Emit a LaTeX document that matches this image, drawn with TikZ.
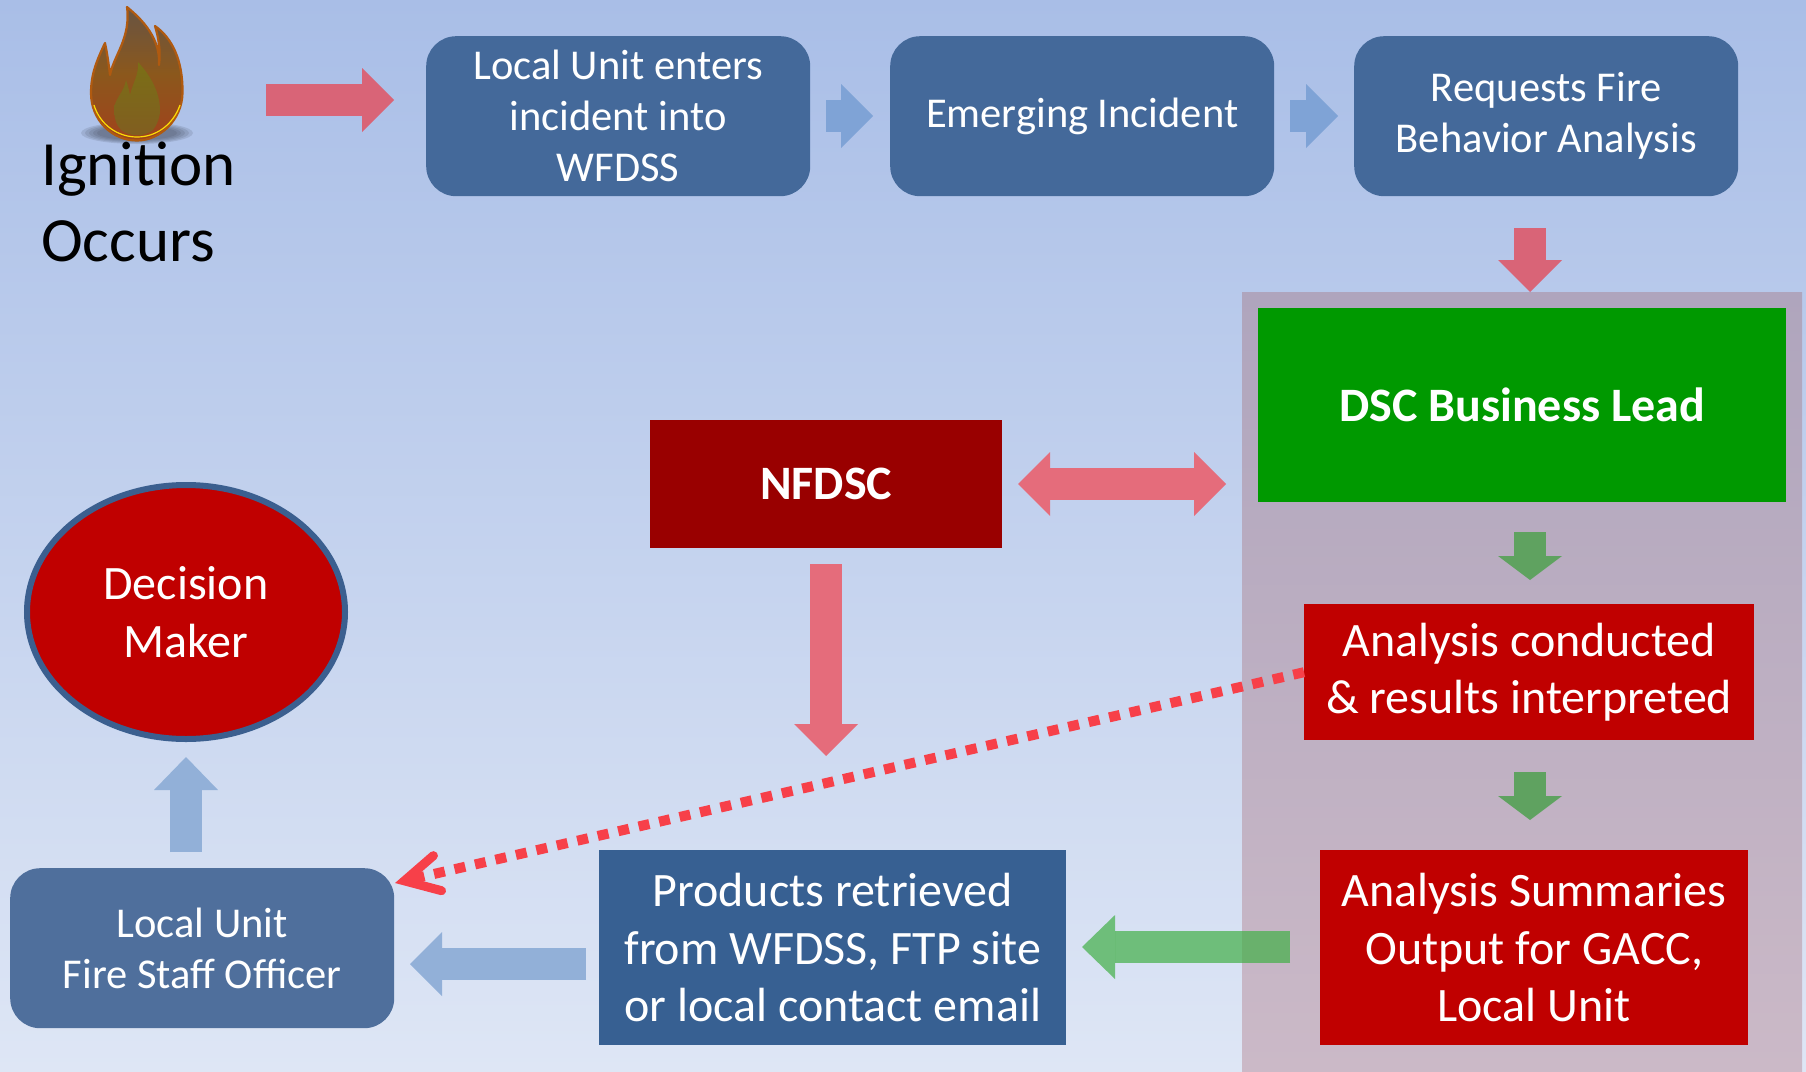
\documentclass[tikz,border=0pt]{standalone}
\usepackage{fontspec}
\setmainfont{Carlito}
\usetikzlibrary{arrows.meta,shadings,shapes.geometric}
\definecolor{bgtop}{HTML}{A9BEE7}
\definecolor{bgbot}{HTML}{DEE6F5}
\definecolor{paneltop}{HTML}{AFA5BD}
\definecolor{panelbot}{HTML}{CBB9C7}
\definecolor{roundblue}{HTML}{44699A}
\definecolor{lightblue}{HTML}{4F6F9C}
\definecolor{prodblue}{HTML}{376092}
\definecolor{boxred}{HTML}{C00000}
\definecolor{darkred}{HTML}{990000}
\definecolor{boxgreen}{HTML}{009900}
\definecolor{arrowred}{HTML}{D96477}
\definecolor{arrowredb}{HTML}{E56C7B}
\definecolor{arrowblue}{HTML}{7FA3D6}
\definecolor{arrowblueb}{HTML}{92B0D8}
\definecolor{arrowgreen}{HTML}{5FA260}
\definecolor{arrowgreenb}{HTML}{42B047}
\definecolor{dotred}{HTML}{F74049}
\definecolor{ellipseline}{HTML}{3B5F8F}
\definecolor{flameline}{HTML}{B05A10}
\pgfdeclareverticalshading{flameouter}{100bp}{
  color(0bp)=(rgb:red,1;green,0.45;blue,0.18);
  color(30bp)=(rgb:red,1;green,0.45;blue,0.18);
  color(50bp)=(rgb:red,1;green,0.63;blue,0.2);
  color(68bp)=(rgb:red,1;green,0.75;blue,0.5);
  color(88bp)=(rgb:red,1;green,0.94;blue,0.86);
  color(100bp)=(rgb:red,1;green,0.97;blue,0.93)}
\pgfdeclareverticalshading{flameinner}{100bp}{
  color(0bp)=(rgb:red,1;green,0.72;blue,0.25);
  color(25bp)=(rgb:red,1;green,0.72;blue,0.25);
  color(75bp)=(rgb:red,1;green,0.91;blue,0.18);
  color(100bp)=(rgb:red,1;green,0.91;blue,0.18)}
\tikzset{
  x=1pt,y=-1pt,
  boxtext/.style={text=white,align=center,inner sep=0pt},
  roundbox/.style={boxtext,rounded corners=30pt,fill=roundblue,font=\fontsize{42.5}{51}\selectfont},
  squarebox/.style={boxtext,fill=boxred,font=\fontsize{48}{57.5}\selectfont},
  boldbox/.style={boxtext,font=\fontsize{48}{57.5}\selectfont\bfseries},
  barrow/.style n args={3}{line width=#1pt,-{Triangle[length=#3pt,width=#2pt,line width=0pt]}},
  dblarrow/.style n args={3}{line width=#1pt,{Triangle[length=#3pt,width=#2pt,line width=0pt]}-{Triangle[length=#3pt,width=#2pt,line width=0pt]}},
}
\newcommand{\mybox}[7]{\node[#1,minimum width=#4pt-#2pt,minimum height=#5pt-#3pt,anchor=north west] (#6) at (#2,#3) {#7};}
\begin{document}
\begin{tikzpicture}
\useasboundingbox (0,0) rectangle (1806,1071);
\shade[top color=bgtop,bottom color=bgbot] (0,0) rectangle (1806,1071);
\shade[top color=paneltop,bottom color=panelbot] (1242,292) rectangle (1802,1071);

% flame shadow
\foreach \r/\s in {56/11,52/10,48/9,44/8,40/7}{
  \fill[black!60!bgtop,opacity=.16] (137,133) ellipse [x radius=\r pt,y radius=\s pt];
}
% flame
\shade[shading=flameouter,draw=flameline,line width=2.2pt,line join=round]
 (127,7) .. controls (135,14) and (161,34) .. (159,65)
 .. controls (161,50) and (158,36) .. (155,26)
 .. controls (172,38) and (183,60) .. (182.5,93)
 .. controls (182,120) and (160,140.5) .. (137,140.5)
 .. controls (112,140.5) and (91,120) .. (91,93)
 .. controls (91,75) and (96,62) .. (105,43)
 .. controls (107,52) and (109,66) .. (110,75)
 .. controls (114,55) and (131,38) .. (127,7) -- cycle;
\draw[yellow!80!orange,line width=1.2pt] (94,105) .. controls (100,125) and (118,137) .. (137,137) .. controls (156,137) and (173,125) .. (180,105);
\shade[shading=flameinner]
 (138,62) .. controls (150,75) and (160,92) .. (160,110)
 .. controls (160,118) and (157,125) .. (153,130)
 .. controls (145,137) and (130,137) .. (121,130)
 .. controls (116,125) and (114,117) .. (114,108)
 .. controls (116,97) and (124,92) .. (126,80)
 .. controls (128,85) and (129,90) .. (130,95)
 .. controls (133,82) and (139,75) .. (138,62) -- cycle;

\node[anchor=north west,inner sep=0pt,align=left,text=black,font=\fontsize{63}{76}\selectfont] (ignition) at (41,142) {Ignition\\Occurs};

% top row
\mybox{roundbox}{426}{36}{810}{196}{localunit}{Local Unit enters\\incident into\\WFDSS}
\mybox{roundbox}{890}{36}{1274}{196}{emerging}{Emerging Incident}
\mybox{roundbox}{1354}{36}{1738}{196}{requests}{Requests Fire\\Behavior Analysis}

% right panel
\mybox{boldbox,fill=boxgreen}{1258}{308}{1786}{502}{dsc}{DSC Business Lead}
\mybox{squarebox}{1304}{604}{1754}{740}{analysis}{Analysis conducted\\\& results interpreted}
\mybox{squarebox}{1320}{850}{1748}{1045}{summaries}{Analysis Summaries\\Output for GACC,\\Local Unit}

% middle / lower
\mybox{boldbox,fill=darkred}{650}{420}{1002}{548}{nfdsc}{NFDSC}
\mybox{squarebox,fill=prodblue}{599}{850}{1066}{1045}{products}{Products retrieved\\from WFDSS, FTP site\\or local contact email}
\mybox{roundbox,fill=lightblue}{10}{868}{394}{1028}{fireofficer}{Local Unit\\Fire Staff Officer}
\node[boxtext,draw=ellipseline,fill=boxred,line width=6pt,ellipse,minimum width=318pt,minimum height=254pt,font=\fontsize{48}{57.5}\selectfont] (decision) at (186,612) {Decision\\Maker};

% connector end points
\coordinate (a1s) at (266,100); \coordinate (a1e) at (394,100);
\coordinate (a2s) at (826,116); \coordinate (a2e) at (873,116);
\coordinate (a3s) at (1290,116); \coordinate (a3e) at (1338,116);
\coordinate (a4s) at (1530,228); \coordinate (a4e) at (1530,292);
\coordinate (a5s) at (1530,532); \coordinate (a5e) at (1530,580);
\coordinate (a6s) at (1530,772); \coordinate (a6e) at (1530,820);
\coordinate (a7s) at (1290,947); \coordinate (a7e) at (1082,947);
\coordinate (a8s) at (586,964); \coordinate (a8e) at (410,964);
\coordinate (a9s) at (186,852); \coordinate (a9e) at (186,757);
\coordinate (a10s) at (826,564); \coordinate (a10e) at (826,756);
\coordinate (a11s) at (1018,484); \coordinate (a11e) at (1226,484);
\coordinate (dottip) at (395,883);

\draw[barrow={32}{64}{32},arrowred] (a1s) -- (a1e);
\draw[barrow={32}{64}{32},arrowblue] (a2s) -- (a2e);
\draw[barrow={32}{64}{32},arrowblue] (a3s) -- (a3e);
\draw[barrow={32}{64}{32},arrowred] (a4s) -- (a4e);
\draw[barrow={32}{64}{24},arrowgreen] (a5s) -- (a5e);
\draw[barrow={32}{64}{24},arrowgreen] (a6s) -- (a6e);
\draw[barrow={32}{64}{33},arrowgreenb,opacity=.7] (a7s) -- (a7e);
\draw[barrow={32}{64}{32},arrowblueb] (a8s) -- (a8e);
\draw[barrow={32}{64}{33},arrowblueb] (a9s) -- (a9e);
\draw[barrow={32}{64}{32},arrowredb] (a10s) -- (a10e);
\draw[dblarrow={32}{64}{32},arrowredb] (a11s) -- (a11e);

\draw[dotred,line width=10pt,dash pattern=on 11pt off 10pt,
  -{Straight Barb[length=34pt,width=36pt,line width=9pt,line cap=round,line join=miter]}]
  (analysis.west) -- (dottip);
\end{tikzpicture}
\end{document}
